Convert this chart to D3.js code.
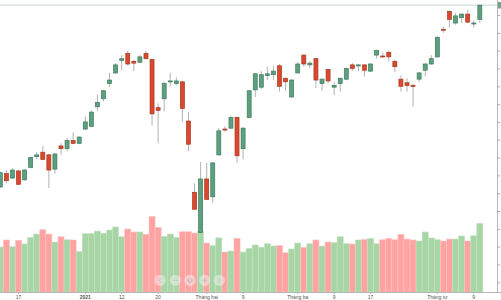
<!DOCTYPE html>
<html><head><meta charset="utf-8">
<script src="https://cdn.jsdelivr.net/npm/d3@7"></script>
<style>html,body{margin:0;padding:0;background:#fff;overflow:hidden}svg{display:block}</style>
</head><body><svg id="c" width="501" height="300"></svg>
<script>
const dates = ["2020-12-14","2020-12-15","2020-12-16","2020-12-17","2020-12-18","2020-12-21","2020-12-22","2020-12-23","2020-12-24","2020-12-25",
"2020-12-28","2020-12-29","2020-12-30","2020-12-31","2021-01-04","2021-01-05","2021-01-06","2021-01-07","2021-01-08","2021-01-11",
"2021-01-12","2021-01-13","2021-01-14","2021-01-15","2021-01-18","2021-01-19","2021-01-20","2021-01-21","2021-01-22","2021-01-25",
"2021-01-26","2021-01-27","2021-01-28","2021-01-29","2021-02-01","2021-02-02","2021-02-03","2021-02-04","2021-02-05","2021-02-08",
"2021-02-09","2021-02-17","2021-02-18","2021-02-19","2021-02-22","2021-02-23","2021-02-24","2021-02-25","2021-02-26","2021-03-01",
"2021-03-02","2021-03-03","2021-03-04","2021-03-05","2021-03-08","2021-03-09","2021-03-10","2021-03-11","2021-03-12","2021-03-15",
"2021-03-16","2021-03-17","2021-03-18","2021-03-19","2021-03-22","2021-03-23","2021-03-24","2021-03-25","2021-03-26","2021-03-29",
"2021-03-30","2021-03-31","2021-04-01","2021-04-02","2021-04-05","2021-04-06","2021-04-07","2021-04-08","2021-04-09","2021-04-12"];

const open = [1067,1082,1077,1085,1075,1089,1101,1106,1103,1087, 1113,1110,1119,1116,1132,1135,1157,1166,1183,1195,
 1209,1217,1208,1207,1217,1210,1156,1166,1185,1183, 1185,1141,1061,1016,1076,1056,1103,1132,1133,1145,
 1110,1145,1176,1179,1192,1193,1203,1189,1168,1195, 1215,1204,1211,1183,1199,1179,1183,1188,1204,1203,
 1204,1197,1215,1214,1218,1208,1188,1184,1181,1188, 1198,1205,1213,1244,1264,1251,1257,1261,1250,1255];
const high = [1084,1086,1088,1086,1087,1101,1106,1113,1104,1105, 1116,1122,1128,1124,1146,1153,1171,1176,1195,1206,
 1215,1220,1210,1215,1220,1211,1161,1185,1195,1190, 1186,1151,1071,1095,1094,1095,1133,1135,1147,1146,
 1134,1176,1195,1197,1202,1203,1205,1190,1188,1207, 1216,1208,1211,1189,1199,1185,1190,1201,1206,1205,
 1205,1206,1221,1218,1220,1210,1192,1189,1183,1196, 1206,1215,1236,1247,1265,1262,1262,1266,1254,1272];
const low = [1066,1071,1076,1069,1074,1088,1098,1097,1066,1082, 1103,1107,1115,1115,1131,1134,1152,1163,1179,1194,
 1198,1203,1197,1206,1210,1136,1116,1152,1180,1181, 1140,1107,1041,1015,1053,1049,1102,1129,1132,1094,
 1098,1144,1168,1177,1187,1187,1174,1175,1167,1194, 1202,1200,1178,1175,1183,1170,1174,1187,1197,1197,
 1191,1196,1211,1212,1208,1196,1174,1174,1157,1185, 1191,1204,1212,1240,1246,1249,1251,1251,1246,1251];
const close = [1083,1074,1086,1070,1086,1100,1103,1098,1086,1104, 1110,1119,1116,1123,1140,1151,1162,1175,1187,1204,
 1211,1205,1206,1213,1211,1149,1153,1183,1186,1186, 1155,1115,1042,1076,1053,1094,1130,1131,1145,1102,
 1133,1175,1194,1193,1194,1197,1180,1185,1187,1205, 1205,1206,1187,1188,1186,1181,1189,1200,1200,1204,
 1198,1205,1220,1213,1213,1202,1180,1181,1180,1195, 1205,1211,1235,1243,1255,1259,1261,1252,1251,1271];
const volume = [529,612,533,608,565,643,682,733,682,588, 650,615,612,476,686,686,717,690,729,765,
 650,741,706,706,679,888,759,653,682,643, 709,709,694,715,576,545,637,470,482,632,
 470,514,553,526,568,541,545,462,506,576, 526,568,612,541,588,580,650,568,565,612,
 617,632,568,615,632,615,679,623,612,600, 706,635,615,600,623,623,659,600,662,808];

const tickDates = ["2020-12-17","2021-01-04","2021-01-12","2021-01-20","2021-02-01","2021-02-09","2021-03-01","2021-03-09","2021-03-17","2021-04-01","2021-04-09"];
const tickLabels = ["17","2021","12","20","Tháng hai","9","Tháng ba","9","17","Tháng tư","9"];
const boldLabels = ["2021"];

const W = 501, H = 300, plotRight = 497, plotBottom = 292;
const svg = d3.select("#c");
svg.append("rect").attr("width",W).attr("height",H).attr("fill","#fff");

const x = d3.scaleBand().domain(dates).range([-2.735, 482.865]).paddingInner(0).paddingOuter(0);
const bw = x.bandwidth();
const cx = d => x(d) + bw/2;
const y = d3.scaleLinear().domain([960,1260]).range([282.3,15]);
const yv = d3.scaleLinear().domain([0,1000]).range([plotBottom,207]);

const data = dates.map((d,i)=>({d, o:open[i], h:high[i], l:low[i], c:close[i], v:volume[i]}));

svg.append("defs").append("clipPath").attr("id","pc").append("rect")
  .attr("x",0).attr("y",0).attr("width",plotRight).attr("height",plotBottom);
const g = svg.append("g").attr("clip-path","url(#pc)");

// volume bars
g.append("g").selectAll("rect").data(data).join("rect")
  .attr("x", d=>x(d.d)).attr("width", bw)
  .attr("y", d=>yv(d.v)).attr("height", d=>plotBottom - yv(d.v))
  .attr("fill", d=> d.c>=d.o ? "#a7d5a6" : "#ffa2a2")
  .attr("stroke", d=> d.c>=d.o ? "#c3e3c2" : "#ffc4c4").attr("stroke-width",0.6);

// last price line
g.append("line").attr("x1",0).attr("x2",plotRight)
  .attr("y1",y(close[close.length-1])).attr("y2",y(close[close.length-1]))
  .attr("stroke","#d9e4df").attr("stroke-width",1.6);

// wicks
g.append("g").selectAll("line").data(data).join("line")
  .attr("x1", d=>cx(d.d)).attr("x2", d=>cx(d.d))
  .attr("y1", d=>y(d.h)).attr("y2", d=>y(d.l))
  .attr("stroke","#a9a9a9").attr("stroke-width",0.9);

// bodies
g.append("g").selectAll("rect").data(data).join("rect")
  .attr("x", d=>cx(d.d)-2).attr("width", 4)
  .attr("y", d=>y(Math.max(d.o,d.c)))
  .attr("height", d=>Math.max(1, Math.abs(y(d.o)-y(d.c))))
  .attr("fill", d=> d.c>=d.o ? "#5e9f7f" : "#d8492f")
  .attr("stroke", d=> d.c>=d.o ? "#3b7d5d" : "#a9371f").attr("stroke-width",0.7);

// bottom axis
const xa = svg.append("g").attr("transform",`translate(0,${plotBottom})`)
  .call(d3.axisBottom(x).tickValues(tickDates).tickSize(2).tickPadding(1)
    .tickFormat(d=>tickLabels[tickDates.indexOf(d)]));
xa.select(".domain").remove();
xa.selectAll(".tick line").attr("stroke","#b5b5b5");
xa.selectAll(".tick text").attr("font-family","'Liberation Sans', Arial, sans-serif")
  .attr("font-size",5).attr("fill","#555")
  .attr("font-weight", function(){ return boldLabels.includes(this.textContent) ? "bold" : "normal"; });
svg.append("line").attr("x1",0).attr("x2",W).attr("y1",plotBottom+0.5).attr("y2",plotBottom+0.5)
  .attr("stroke","#b5b5b5").attr("stroke-width",1);

// right price axis (labels fall outside the visible window)
const ya = svg.append("g").attr("transform",`translate(${plotRight},0)`)
  .call(d3.axisRight(y).ticks(15).tickSize(3).tickFormat(()=>""));
ya.select(".domain").remove();
ya.selectAll(".tick line").attr("stroke","#aaa");
svg.append("line").attr("x1",plotRight+0.5).attr("x2",plotRight+0.5).attr("y1",0).attr("y2",plotBottom)
  .attr("stroke","#b5b5b5").attr("stroke-width",1);
svg.append("rect").attr("x",plotRight+1).attr("width",5)
  .attr("y",y(close[close.length-1])-3.3).attr("height",6.6).attr("fill","#6aa889");

// navigation buttons
const navX = [160.3,175.3,190,204.7,219.3], navY = 280.3;
const nav = svg.append("g");
nav.selectAll("circle").data(navX).join("circle")
  .attr("cx",d=>d).attr("cy",navY).attr("r",5.6)
  .attr("fill","#f2f2f2").attr("fill-opacity",0.5);
const ic = nav.append("g").attr("stroke","#9a9a9a").attr("stroke-opacity",0.45)
  .attr("fill","none").attr("stroke-width",0.8).attr("stroke-linecap","round");
ic.append("path").attr("d",`M${navX[0]+1},${navY-2} L${navX[0]-1},${navY} L${navX[0]+1},${navY+2}`);
ic.append("path").attr("d",`M${navX[1]-2},${navY} L${navX[1]+2},${navY}`);
ic.append("path").attr("d",d3.arc()({innerRadius:2,outerRadius:2,startAngle:0.6,endAngle:5.6})).attr("transform",`translate(${navX[2]},${navY})`);
ic.append("path").attr("d",`M${navX[3]-2},${navY} L${navX[3]+2},${navY} M${navX[3]},${navY-2} L${navX[3]},${navY+2}`);
ic.append("path").attr("d",`M${navX[4]-1},${navY-2} L${navX[4]+1},${navY} L${navX[4]-1},${navY+2}`);
</script></body></html>
